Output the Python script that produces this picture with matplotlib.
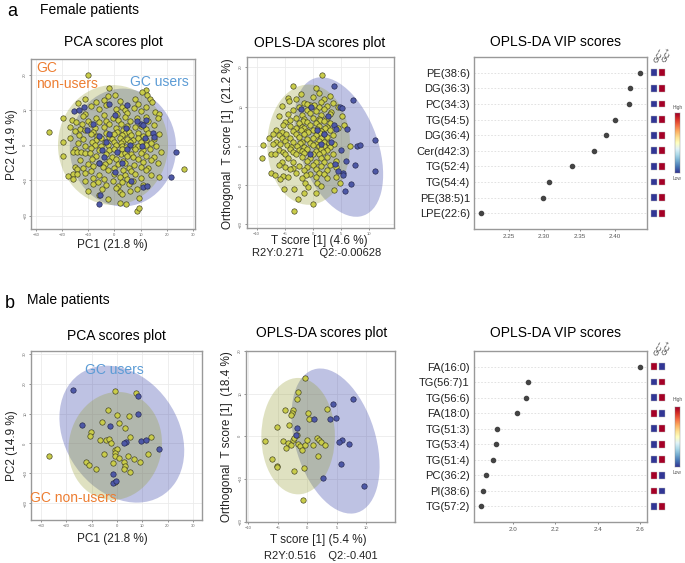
import numpy as np
import matplotlib
matplotlib.use('Agg')
import matplotlib.pyplot as plt
from matplotlib.patches import Ellipse

plt.rcParams['font.family'] = ['Liberation Sans', 'DejaVu Sans']

W, H = 685, 563

# ---------------- data ----------------
# female PCA scores (PC1, PC2)
fpca_non = [
    (-10.0, 19.8), (-2.0, 16.3), (12.0, 15.6), (10.5, 15.0), (12.6, 14.2), (-2.5, 13.8), (0.3, 14.3),
    (13.6, 13.0), (-11.0, 13.2), (-4.0, 12.9), (8.0, 13.1), (-14.0, 11.8), (-7.0, 12.2), (2.0, 12.4),
    (9.0, 11.7), (14.2, 12.1),
    (-9.0, 11.0), (-3.0, 11.3), (3.0, 10.8), (7.5, 10.5), (12.0, 10.9), (-6.0, 10.1), (0.5, 10.3),
    (4.0, 9.9), (10.0, 9.7), (-11.0, 8.8), (-4.0, 8.6), (1.0, 8.9), (5.0, 9.0), (15.5, 9.3), (17.0, 8.8),
    (-19.5, 7.6), (-12.0, 8.1), (-7.0, 7.7), (-0.5, 7.8), (4.0, 8.0), (8.5, 7.6), (12.0, 7.9), (16.5, 7.8),
    (-16.0, 7.0), (-14.5, 6.6), (-10.0, 6.9), (-6.0, 6.4), (-3.0, 6.9), (1.5, 7.1), (6.0, 6.8), (13.0, 6.9),
    (-12.5, 5.9), (-9.0, 6.1), (-2.0, 5.9), (2.5, 6.0), (5.0, 5.5), (10.0, 5.3), (15.0, 5.6),
    (-17.0, 5.0), (-13.0, 4.6), (-7.5, 4.8), (-4.0, 5.2), (0.5, 4.9), (3.5, 4.4), (8.0, 5.0), (12.0, 4.6),
    (-25.0, 3.7), (-15.0, 3.9), (-11.0, 4.2), (-8.0, 3.6), (-3.0, 3.5), (1.0, 3.6), (4.0, 3.3), (5.5, 3.8),
    (9.0, 3.5), (13.0, 3.4), (-13.5, 2.8), (-9.0, 3.1), (-6.5, 2.6), (-2.0, 2.4), (0.0, 3.0), (3.0, 2.9),
    (6.5, 2.8), (11.0, 2.7), (17.0, 3.0),
    (-17.0, 1.9), (-12.0, 1.6), (-7.0, 1.5), (-5.0, 1.9), (-1.0, 1.8), (2.0, 1.9), (3.5, 1.2), (5.0, 1.7),
    (7.0, 1.3), (9.0, 1.9), (12.0, 1.5), (15.0, 1.8), (-19.5, 0.9), (-14.0, 0.6), (-8.5, 1.0), (-3.5, 0.8),
    (0.0, 0.9), (2.5, 0.7), (6.0, 0.9), (10.0, 0.8), (14.0, 0.5),
    (-11.0, -0.2), (-7.5, 0.1), (-5.0, -0.4), (-2.5, 0.0), (0.5, -0.1), (3.0, -0.2), (4.5, -0.5),
    (7.5, -0.6), (9.0, -0.3), (12.0, -0.1), (16.0, -0.4), (-15.0, -1.2), (-9.0, -0.9), (-6.0, -1.4),
    (-2.0, -1.5), (0.0, -1.1), (3.0, -1.0), (8.0, -1.1), (11.0, -1.5), (13.5, -1.0),
    (-15.9, -1.9), (-14.4, -2.1), (-12.7, -2.0), (-11.2, -2.2), (-9.3, -2.3), (-3.0, -2.4), (2.5, -2.6),
    (4.0, -2.2), (6.5, -2.5), (10.0, -2.3), (18.0, -2.0), (-19.7, -3.0), (-7.0, -3.2), (-1.0, -3.4),
    (5.0, -3.1), (7.0, -3.5), (12.0, -3.0), (15.0, -3.3),
    (-13.0, -4.1), (-8.5, -3.9), (-2.0, -4.4), (0.5, -4.0), (3.5, -4.5), (9.0, -3.9), (14.0, -4.3),
    (-9.9, -5.5), (-6.0, -5.0), (-3.5, -5.4), (1.5, -5.3), (4.0, -5.1), (7.5, -5.6), (11.0, -4.9),
    (16.5, -5.2),
    (-15.0, -6.1), (-12.0, -6.5), (-8.0, -6.0), (-4.5, -6.3), (0.0, -6.6), (5.5, -6.4), (10.0, -6.2),
    (13.0, -6.6), (-14.1, -6.9), (-9.0, -7.3), (-2.5, -7.1), (3.5, -7.0), (6.5, -7.4), (12.0, -7.2),
    (26.6, -6.9),
    (-17.8, -8.7), (-15.9, -8.2), (-14.4, -8.3), (-11.0, -8.0), (-6.0, -8.4), (0.0, -8.1), (4.0, -8.6),
    (8.0, -8.2), (14.0, -8.5), (-15.7, -9.6), (-8.0, -9.2), (-4.0, -9.5), (2.0, -9.1), (5.0, -9.7),
    (10.0, -9.3), (17.0, -9.0),
    (-11.0, -10.3), (-8.0, -10.9), (-6.4, -10.6), (-0.5, -10.2), (3.0, -10.5), (7.0, -10.1),
    (-3.0, -11.2), (1.5, -11.5), (5.5, -11.0), (11.0, -11.3), (-4.6, -12.5), (0.5, -12.2), (8.5, -12.4),
    (-10.0, -13.1), (2.0, -13.4), (6.0, -12.9), (-6.0, -14.2), (3.0, -14.0), (-2.5, -15.3), (9.5, -15.0),
    (4.6, -16.8), (2.0, -16.5), (8.6, -18.6), (9.6, -17.8),
]
fpca_gc = [
    (-15.4, 9.7), (-13.4, 9.9), (-11.5, 10.8), (-1.9, 11.6), (4.7, 11.3), (0.3, 8.5), (10.2, 6.1),
    (11.1, 5.7), (8.5, 6.9), (4.5, 4.7), (11.7, 2.1), (14.9, 3.3), (15.3, 2.4), (6.0, 0.0), (10.4, -0.2),
    (-10.3, 4.2), (-5.9, 2.5), (-8.0, 6.0), (-2.0, 3.2), (-3.0, 1.0), (-4.6, -1.4), (-3.9, -3.3),
    (1.0, -2.0), (5.0, -1.2), (-6.0, -5.0), (3.0, -5.2), (0.4, -7.5), (-5.5, -14.1), (-5.9, -16.7),
    (6.2, -10.1), (11.1, -11.8), (12.4, -11.6), (23.6, -2.1), (21.7, -9.0), (12.0, 7.2),
]

# female OPLS-DA scores (T score, orthogonal T score)
fopls_non = [
    (1.7, 18.1), (-3.5, 15.2), (0.5, 14.8), (-2.1, 13.2), (1.0, 13.4), (3.0, 12.8),
    (-4.5, 12.2), (-3.0, 11.9), (0.0, 12.3), (2.0, 11.8), (-4.3, 11.4), (-1.5, 11.0), (1.5, 11.2), (3.5, 10.8),
    (-5.5, 10.1), (-2.5, 9.8), (-0.5, 10.3), (1.0, 9.9), (2.5, 10.2), (4.5, 10.0), (-1.0, 10.6), (0.2, 10.4),
    (-3.5, 9.0), (-1.0, 9.2), (0.5, 8.8), (2.0, 9.3), (3.2, 8.7),
    (-4.5, 8.1), (-2.0, 7.8), (-0.5, 8.3), (1.5, 7.9), (3.0, 8.2), (-6.1, 7.5), (5.1, 7.5),
    (-3.0, 7.1), (-1.5, 6.8), (0.0, 7.2), (1.0, 6.9), (2.5, 7.0), (-4.0, 6.5), (-1.8, 6.4), (1.2, 6.6),
    (-5.0, 6.0), (-2.5, 5.8), (-1.0, 6.1), (0.5, 5.9), (2.0, 6.2), (3.0, 5.7),
    (-5.3, 5.2), (-4.0, 5.0), (-2.0, 4.9), (-0.5, 5.3), (1.0, 5.1), (2.5, 4.8), (5.5, 5.2),
    (-3.0, 4.5), (-1.5, 4.6), (0.8, 4.4), (2.2, 4.5),
    (-6.5, 4.0), (-3.5, 3.9), (-2.2, 4.1), (-1.0, 3.8), (0.0, 4.0), (1.5, 3.7), (3.0, 4.1), (4.4, 4.5),
    (-5.5, 3.5), (-0.8, 3.4), (1.2, 3.3),
    (-7.0, 3.0), (-6.1, 2.8), (-4.8, 3.1), (-3.0, 2.9), (-1.5, 3.0), (0.5, 2.7), (2.0, 3.1), (3.5, 2.8),
    (-7.8, 2.0), (-5.5, 2.1), (-4.0, 1.9), (-2.5, 2.2), (-1.0, 1.8), (0.0, 2.1), (1.5, 1.9), (2.5, 2.2),
    (-6.5, 1.0), (-5.0, 1.2), (-3.5, 0.9), (-2.0, 1.1), (-0.5, 0.8), (1.0, 1.2), (2.0, 0.9), (3.8, 0.4),
    (-7.0, 0.5), (-5.8, 0.4), (-2.3, 0.6), (0.5, 0.4), (2.8, 0.6),
    (-8.9, 0.3), (-4.6, 0.3), (-3.8, -0.2), (-2.8, 0.0), (-1.5, -0.2), (0.0, 0.1), (1.0, -0.1), (2.0, 0.0),
    (3.0, -0.3), (6.6, 0.0),
    (-6.0, -1.0), (-4.0, -0.8), (-2.5, -1.1), (-1.0, -0.9), (0.5, -1.2), (1.5, -0.8), (2.5, -1.0),
    (-5.3, -1.5), (-3.5, -1.6), (-2.0, -1.4), (1.8, -1.6),
    (-7.5, -2.1), (-6.8, -2.1), (-5.0, -2.0), (-3.0, -2.2), (-1.5, -1.9), (0.0, -2.1), (1.0, -2.0), (3.5, -2.2),
    (-9.1, -3.1), (-4.5, -3.0), (-2.0, -2.9), (-0.5, -3.2), (1.5, -3.0), (2.5, -2.8), (4.1, -3.8),
    (-5.5, -4.0), (-3.5, -4.2), (-1.0, -3.9), (0.5, -4.1), (2.0, -4.0),
    (-6.0, -5.0), (-2.5, -5.1), (0.0, -4.9), (1.5, -5.2), (4.1, -5.3), (3.0, -4.8),
    (-5.0, -5.5), (-3.5, -5.6), (-1.0, -5.4),
    (-4.0, -6.0), (-1.5, -6.2), (0.5, -5.9), (2.5, -6.1),
    (-7.5, -6.9), (-6.7, -7.4), (-3.0, -7.0), (-0.5, -7.1), (1.0, -6.9), (2.0, -7.2),
    (-5.3, -7.6), (-1.2, -7.5),
    (-4.4, -8.0), (-2.0, -8.1), (0.5, -7.9), (2.5, -8.2), (4.1, -7.8), (-5.8, -8.5),
    (-1.4, -9.5), (0.7, -9.5), (4.8, -9.5), (-0.8, -10.4), (1.5, -10.2),
    (-5.2, -11.0), (-3.4, -11.0), (3.7, -11.2), (-1.5, -12.0), (0.5, -12.1),
    (-2.7, -13.5), (0.1, -14.9), (-3.4, -16.6),
]
fopls_gc = [
    (3.8, 15.1), (7.1, 11.7), (4.8, 10.0), (5.1, 9.6), (11.0, 1.4), (7.8, 0.0), (8.3, 0.2),
    (11.1, -6.4), (6.7, -9.8), (5.7, -11.5), (7.5, -5.0), (5.9, -3.8), (5.4, -7.0), (5.3, -7.3),
    (4.5, -6.4), (3.95, -4.7), (3.8, 5.3), (4.1, 4.3), (6.0, 4.3), (3.2, 0.9), (5.0, -1.0),
    (-2.1, 9.4), (-0.35, 9.9), (2.7, 7.6), (0.7, 4.0), (2.0, 3.0), (1.5, 0.5), (-0.5, -2.0),
]

# male PCA scores
mpca_non = [
    (-26.7, -4.2), (-0.7, 17.4), (7.6, 16.7), (-3.7, 11.1), (0.0, 9.4), (4.6, 9.1), (-5.9, 7.2),
    (0.7, 6.7), (3.3, 5.0), (-10.3, 3.7), (-10.5, 2.4), (-6.6, 1.3), (-4.2, 1.1), (-3.3, 1.4),
    (-2.4, 0.0), (5.3, 2.2), (13.6, 2.2), (-4.9, -3.6), (-0.7, -2.2), (0.0, -1.9), (-0.7, -3.3),
    (-0.7, -4.1), (0.9, -5.0), (-1.6, -6.4), (2.9, -6.1), (3.3, -7.4), (4.2, -4.2), (2.9, -8.7),
    (5.0, -9.4), (6.6, -5.3), (9.0, -6.3), (12.3, -3.6), (-12.1, -6.1), (-10.9, -7.2), (-8.2, -8.7),
    (-0.7, -12.8),
]
mpca_gc = [
    (-17.5, 17.8), (8.2, 15.8), (8.2, 9.7), (-13.8, 6.3), (-2.9, 5.8), (3.7, 0.6), (3.0, 0.0),
    (9.6, 0.9), (11.5, 1.1), (16.5, -1.9), (-1.7, -10.2), (-1.7, -13.3), (-0.3, -12.6),
]

# male OPLS-DA scores
mopls_non = [
    (-0.4, 13.75), (-1.6, 10.5), (-1.7, 8.8), (-3.8, 6.1), (-2.5, 6.25), (-2.6, 5.5), (-2.7, 4.9),
    (0.06, 5.5), (0.3, 4.0), (3.4, 6.3), (-5.1, 2.3), (-3.1, 2.7), (-7.1, -1.2), (-4.1, -1.2),
    (-3.2, -1.6), (-2.8, -2.1), (-2.5, -0.8), (-2.3, -0.5), (-1.8, 0.2), (-1.5, -1.7), (-1.25, -2.3),
    (-0.97, -3.1), (-3.6, -2.7), (-0.4, -2.0), (-0.1, -0.9), (1.0, -2.0), (1.6, -0.4), (2.0, -0.8),
    (2.3, -1.3), (3.0, -2.1), (1.9, -4.7), (-6.0, -5.2), (-5.1, -7.0), (-5.2, -7.2), (-2.3, -8.1),
    (-0.5, -7.4), (-0.8, -14.8),
]
mopls_gc = [
    (4.4, 7.5), (7.7, 8.8), (1.2, 4.0), (3.9, 4.0), (4.9, 4.4), (-1.8, 2.0), (-1.9, 0.2),
    (5.85, -0.9), (5.4, -1.3), (7.1, -1.7), (5.7, -6.4), (2.6, -9.8), (9.7, -11.7),
]

# confidence ellipses: centre and shape matrix [[a, c], [c, b]] (data units squared)
fpca_ell_non = ((-0.5, 0.0), (441.0, 289.0, 0.0))
fpca_ell_gc = ((3.3, -0.7), (412.0, 279.0, 0.0))
fopls_ell_non = ((-0.75, 0.3), (54.0, 234.0, 0.0))
fopls_ell_gc = ((4.6, -0.3), (62.0, 315.0, -55.0))
mpca_ell_non = ((-0.65, -0.85), (340.0, 326.0, 20.0))
mpca_ell_gc = ((1.95, 3.1), (607.0, 524.0, -136.0))
mopls_ell_non = ((-1.55, 0.05), (39.0, 186.0, 0.0))
mopls_ell_gc = ((4.8, -1.1), (56.0, 289.0, -44.0))

# VIP scores
f_vip_names = ['PE(38:6)', 'DG(36:3)', 'PC(34:3)', 'TG(54:5)', 'DG(36:4)', 'Cer(d42:3)',
               'TG(52:4)', 'TG(54:4)', 'PE(38:5)1', 'LPE(22:6)']
f_vip = [2.4356, 2.4214, 2.420, 2.400, 2.3874, 2.370, 2.3388, 2.307, 2.2986, 2.210]
f_gc_minus = [0, 0, 0, 0, 0, 0, 0, 0, 0, 0]
f_gc_plus = [1, 1, 1, 1, 1, 1, 1, 1, 1, 1]

m_vip_names = ['FA(16:0)', 'TG(56:7)1', 'TG(56:6)', 'FA(18:0)', 'TG(51:3)', 'TG(53:4)',
               'TG(51:4)', 'PC(36:2)', 'PI(38:6)', 'TG(57:2)']
m_vip = [2.600, 2.0707, 2.063, 2.022, 1.927, 1.921, 1.908, 1.874, 1.858, 1.849]
m_gc_minus = [1, 0, 0, 1, 0, 0, 0, 1, 1, 0]
m_gc_plus = [0, 1, 1, 0, 1, 1, 1, 0, 0, 1]

# ---------------- styling ----------------
COL_NON = '#c9cc4a'
COL_GC = '#4d58a6'
ELL_NON = '#969e32'
ELL_GC = '#3c46aa'
ORANGE = '#ed7d31'
LBLUE = '#5b9bd5'


def box(x0, y0, x1, y1):
    return [x0 / W, 1 - y1 / H, (x1 - x0) / W, (y1 - y0) / H]


def ftxt(x, y, s, **kw):
    fig.text(x / W, 1 - y / H, s, **kw)


def add_ellipse(ax, ell, color, alpha):
    (cx, cy), (a, b, c) = ell
    vals, vecs = np.linalg.eigh(np.array([[a, c], [c, b]]))
    ang = np.degrees(np.arctan2(vecs[1, 1], vecs[0, 1]))
    ax.add_patch(Ellipse((cx, cy), 2 * np.sqrt(vals[1]), 2 * np.sqrt(vals[0]), angle=ang,
                         facecolor=color, edgecolor='none', alpha=alpha, zorder=1))


def score_plot(rect, non, gc, ell_non, ell_gc, xlim, ylim, xticks, yticks):
    ax = fig.add_axes(box(*rect))
    add_ellipse(ax, ell_gc, ELL_GC, 0.33)
    add_ellipse(ax, ell_non, ELL_NON, 0.3)
    non = np.array(non)
    gc = np.array(gc)
    ax.scatter(non[:, 0], non[:, 1], s=15, c=COL_NON, edgecolors='#3d3d1e', linewidths=0.45, zorder=3)
    ax.scatter(gc[:, 0], gc[:, 1], s=15, c=COL_GC, edgecolors='#23264a', linewidths=0.45, zorder=3)
    ax.set_xlim(*xlim)
    ax.set_ylim(*ylim)
    ax.set_xticks(xticks)
    ax.set_yticks(yticks)
    ax.grid(True, color='#ebebeb', lw=0.6)
    ax.set_axisbelow(True)
    ax.tick_params(labelsize=3, colors='#666666', length=1.5, width=0.5, pad=1.2)
    for lab in ax.get_yticklabels():
        lab.set_rotation(90)
        lab.set_va('center')
    for sp in ax.spines.values():
        sp.set_color('#999999')
        sp.set_linewidth(1.0)
    return ax


def vip_plot(rect, names, vals, minus, plus, xlim, xticks, heat_x, cbar_rect, hdr_y, hl_y):
    ax = fig.add_axes(box(*rect))
    ypos = np.arange(len(names), 0, -1)
    for yy in ypos:
        ax.axhline(yy, color='#dddddd', lw=0.6, ls=(0, (2, 2)), zorder=1)
    ax.scatter(vals, ypos, s=9, c='#444444', zorder=3)
    ax.set_xlim(*xlim)
    ax.set_ylim(0, len(names) + 1)
    ax.set_xticks(xticks)
    ax.set_yticks(ypos)
    ax.set_yticklabels(names, fontsize=8, color='#222222')
    ax.tick_params(axis='y', length=0, pad=3)
    ax.tick_params(axis='x', labelsize=4.5, colors='#555555', length=1.5, width=0.5, pad=2)
    for sp in ax.spines.values():
        sp.set_color('#999999')
        sp.set_linewidth(1.0)

    # GC-/GC+ heat squares
    hx = fig.add_axes(box(heat_x, rect[1], heat_x + 16, rect[3]))
    hx.set_xlim(-0.5, 1.5)
    hx.set_ylim(0, len(names) + 1)
    hx.axis('off')
    cmap = plt.get_cmap('RdYlBu_r')
    hx.scatter(np.zeros(len(names)), ypos, marker='s', s=24, c=minus, cmap=cmap, vmin=0, vmax=1,
               edgecolors='#bbbbbb', linewidths=0.3)
    hx.scatter(np.ones(len(names)), ypos, marker='s', s=24, c=plus, cmap=cmap, vmin=0, vmax=1,
               edgecolors='#bbbbbb', linewidths=0.3)
    ftxt(heat_x + 1, hdr_y, 'GC$^{-}$', fontsize=5, rotation=60, ha='left', va='bottom', color='#333333')
    ftxt(heat_x + 9, hdr_y, 'GC$^{+}$', fontsize=5, rotation=60, ha='left', va='bottom', color='#333333')

    # colour key
    cx = fig.add_axes(box(*cbar_rect))
    cx.imshow(np.linspace(1, 0, 100).reshape(-1, 1), aspect='auto', cmap=cmap)
    cx.set_xticks([])
    cx.set_yticks([])
    for sp in cx.spines.values():
        sp.set_linewidth(0.3)
        sp.set_color('#888888')
    xc = (cbar_rect[0] + cbar_rect[2]) / 2
    ftxt(xc, hl_y[0], 'High', fontsize=3.5, ha='center', va='center', color='#555555')
    ftxt(xc, hl_y[1], 'Low', fontsize=3.5, ha='center', va='center', color='#555555')
    return ax


fig = plt.figure(figsize=(W / 100, H / 100), dpi=100)

# ---------------- panel a: female ----------------
ftxt(7, 12, 'a', fontsize=13, ha='left', va='center')
ftxt(40, 10, 'Female patients', fontsize=10, ha='left', va='center')

score_plot((31, 59, 195, 229), fpca_non, fpca_gc, fpca_ell_non, fpca_ell_gc,
           (-31.8, 30.8), (-23.8, 24.4), [-30, -20, -10, 0, 10, 20, 30], [-20, -10, 0, 10, 20])
ftxt(113, 42, 'PCA scores plot', fontsize=10, ha='center', va='center')
ftxt(112, 245, 'PC1 (21.8 %)', fontsize=8.5, ha='center', va='center', color='#222222')
ftxt(12, 145, 'PC2 (14.9 %)', fontsize=8.5, ha='center', va='center', rotation=90, color='#222222')
ftxt(36, 61, 'GC\nnon-users', fontsize=10, ha='left', va='top', color=ORANGE, linespacing=1.2)
ftxt(159, 82, 'GC users', fontsize=10, ha='center', va='center', color=LBLUE)

score_plot((247, 57, 394, 228), fopls_non, fopls_gc, fopls_ell_non, fopls_ell_gc,
           (-11.7, 14.4), (-20.9, 22.6), [-10, -5, 0, 5, 10], [-20, -10, 0, 10, 20])
ftxt(320, 43, 'OPLS-DA scores plot', fontsize=10, ha='center', va='center')
ftxt(319, 241, 'T score [1] (4.6 %)', fontsize=8.5, ha='center', va='center', color='#222222')
ftxt(317, 253, 'R2Y:0.271     Q2:-0.00628', fontsize=8, ha='center', va='center', color='#222222')
ftxt(228, 144, 'Orthogonal  T score [1]  (21.2 %)', fontsize=8.5, ha='center', va='center',
     rotation=90, color='#222222')

vip_plot((474, 57, 647, 229), f_vip_names, f_vip, f_gc_minus, f_gc_plus,
         (2.2008, 2.445), [2.25, 2.30, 2.35, 2.40], 650, (675, 113, 680, 173), 65, (108, 179))
ftxt(556, 42, 'OPLS-DA VIP scores', fontsize=10, ha='center', va='center')

# ---------------- panel b: male ----------------
ftxt(5, 303, 'b', fontsize=13, ha='left', va='center')
ftxt(27, 300, 'Male patients', fontsize=10, ha='left', va='center')

score_plot((31, 351, 202, 520), mpca_non, mpca_gc, mpca_ell_non, mpca_ell_gc,
           (-33.9, 33.6), (-25.6, 30.9), [-30, -20, -10, 0, 10, 20, 30], [-20, -10, 0, 10, 20, 30])
ftxt(116, 336, 'PCA scores plot', fontsize=10, ha='center', va='center')
ftxt(112, 539, 'PC1 (21.8 %)', fontsize=8.5, ha='center', va='center', color='#222222')
ftxt(12, 446, 'PC2 (14.9 %)', fontsize=8.5, ha='center', va='center', rotation=90, color='#222222')
ftxt(114, 370, 'GC users', fontsize=10, ha='center', va='center', color=LBLUE)
ftxt(30, 498, 'GC non-users', fontsize=10, ha='left', va='center', color=ORANGE)

score_plot((246, 351, 395, 522), mopls_non, mopls_gc, mopls_ell_non, mopls_ell_gc,
           (-10.4, 14.9), (-20.07, 20.0), [-10, -5, 0, 5, 10], [-20, -10, 0, 10, 20])
ftxt(322, 333, 'OPLS-DA scores plot', fontsize=10, ha='center', va='center')
ftxt(318, 540, 'T score [1] (5.4 %)', fontsize=8.5, ha='center', va='center', color='#222222')
ftxt(321, 556, 'R2Y:0.516    Q2:-0.401', fontsize=8, ha='center', va='center', color='#222222')
ftxt(227, 437, 'Orthogonal  T score [1]  (18.4 %)', fontsize=8.5, ha='center', va='center',
     rotation=90, color='#222222')

vip_plot((474, 351, 647, 522), m_vip_names, m_vip, m_gc_minus, m_gc_plus,
         (1.8175, 2.632), [2.0, 2.2, 2.4, 2.6], 650, (675, 407, 680, 467), 358, (400, 473))
ftxt(556, 333, 'OPLS-DA VIP scores', fontsize=10, ha='center', va='center')

fig.savefig('out.png', dpi=100)
